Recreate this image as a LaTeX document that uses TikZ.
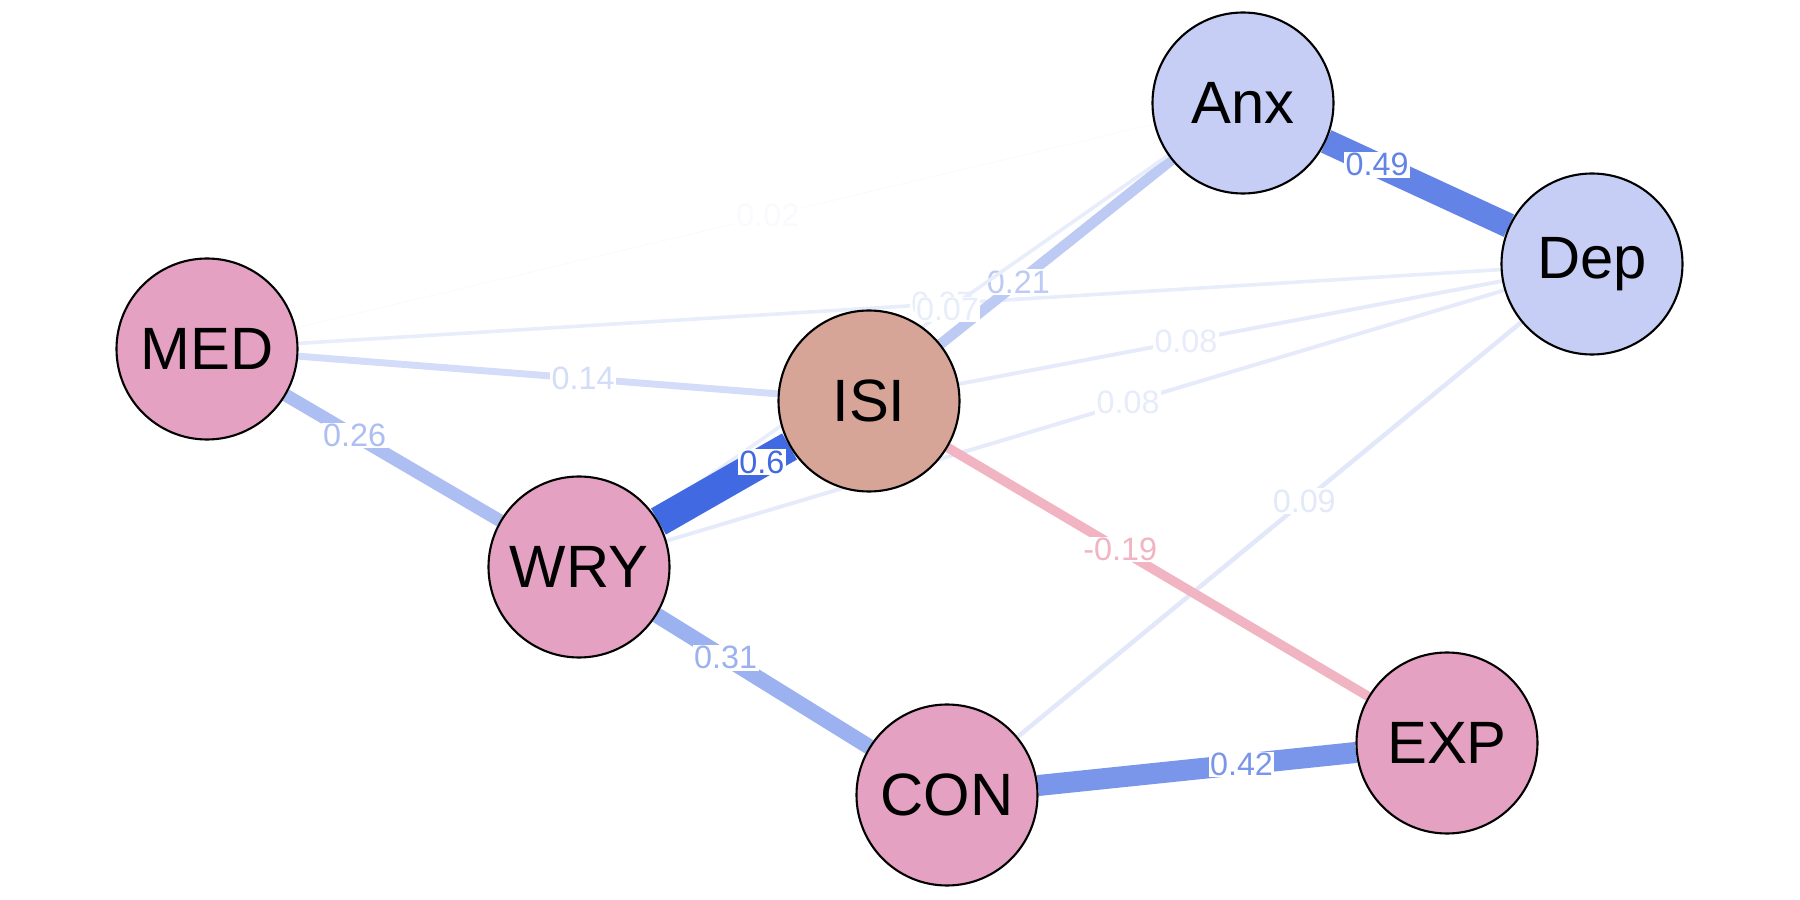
\documentclass[tikz,border=0pt]{standalone}
\usepackage{fontspec}
\setmainfont{Liberation Sans}
\usepackage{tikz}
\usetikzlibrary{backgrounds}
\usepackage{xcolor}

\definecolor{netblue}{RGB}{65,105,225}
\definecolor{netneg}{RGB}{241,180,194}
\definecolor{symfill}{RGB}{198,206,245}
\definecolor{itemfill}{RGB}{228,161,194}
\definecolor{isifill}{RGB}{214,165,152}

\begin{document}
\begin{tikzpicture}[x=1cm, y=1cm]
	\tikzstyle{round} = [draw=black, line width=0.6pt, circle, minimum size=1.81cm, inner sep=0pt, font=\fontsize{17}{20}\selectfont]
	\tikzstyle{link} = [color=netblue!#1!white, line width={0.0854pt*#1}]
	\tikzstyle{linkneg} = [color=netneg, line width=2.7pt]
	\tikzstyle{wlabel} = [fill=white, inner sep=0.4pt, font=\fontsize{9.2}{11}\selectfont]

	\useasboundingbox (0,0) rectangle (18,9);

	\node[round, fill=symfill] 	at (12.43, 7.97)	(Anx)	{Anx};
	\node[round, fill=symfill] 	at (15.92, 6.36)	(Dep)	{Dep};
	\node[round, fill=itemfill] 	at (2.07, 5.51)	(MED)	{MED};
	\node[round, fill=isifill] 	at (8.69, 4.99)	(ISI)	{ISI};
	\node[round, fill=itemfill] 	at (5.79, 3.33)	(WRY)	{WRY};
	\node[round, fill=itemfill] 	at (9.47, 1.05)	(CON)	{CON};
	\node[round, fill=itemfill] 	at (14.47, 1.57)	(EXP)	{EXP};

	% weakest first, strongest on top
	\begin{scope}[on background layer]
		\path
		(MED)	edge[link=3]	node[wlabel, pos=0.55]	{0.02}	(Anx)
		(MED)	edge[link=12]	node[wlabel, pos=0.536]	{0.07}	(Dep)
		(ISI)	edge[link=13]	node[wlabel, pos=0.418]	{0.08}	(Dep)
		(WRY)	edge[link=13]	node[wlabel, pos=0.551]	{0.08}	(Dep)
		(CON)	edge[link=15]	node[wlabel, pos=0.569]	{0.09}	(Dep)
		(MED)	edge[link=23]	node[wlabel, pos=0.594]	{0.14}	(ISI)
		(ISI)	edge[linkneg]	node[wlabel, pos=0.41]	{-0.19}	(EXP)
		(ISI)	edge[link=35]	node[wlabel, pos=0.337]	{0.21}	(Anx)
		(WRY)	edge[link=12]	node[wlabel, pos=0.571]	{0.07}	(Anx)
		(MED)	edge[link=43]	node[wlabel, pos=0.321]	{0.26}	(WRY)
		(WRY)	edge[link=52]	node[wlabel, pos=0.324]	{0.31}	(CON)
		(CON)	edge[link=70]	node[wlabel, pos=0.64]	{0.42}	(EXP)
		(Anx)	edge[link=82]	node[wlabel, pos=0.279]	{0.49}	(Dep)
		(WRY)	edge[link=100]	node[wlabel, pos=0.789]	{0.6}	(ISI);
	\end{scope}
\end{tikzpicture}
\end{document}
